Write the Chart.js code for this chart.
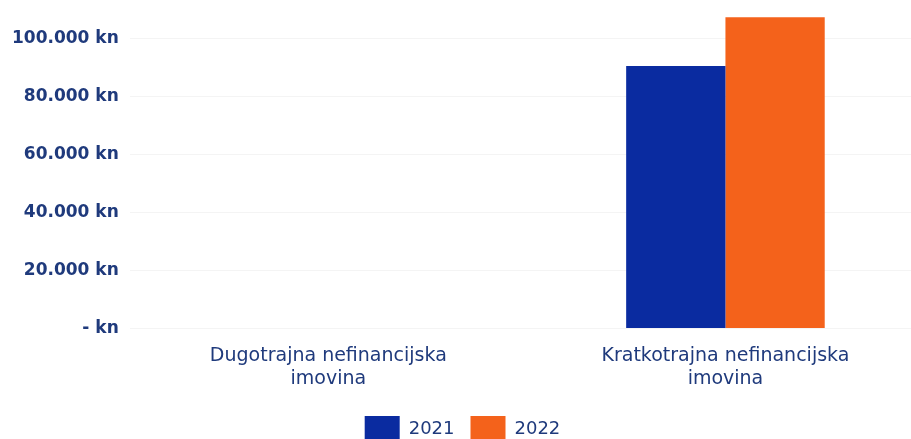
<!DOCTYPE html>
<html lang="hr">
<head>
    <meta charset="UTF-8">
    <title>Nefinancijska imovina</title>
    <style>
        html, body {
            margin: 0;
            padding: 0;
            background: #ffffff;
            overflow: hidden;
        }
        #wrap {
            position: relative;
            top: -12px;
            width: 924px;
            height: 464px;
        }
    </style>
</head>
<body>
<div id="wrap">
    <canvas id="myChart"></canvas>
</div>

<script src="https://cdn.jsdelivr.net/npm/chart.js"></script>
<script>
    const kategorije = [
        ['Dugotrajna nefinancijska', 'imovina'],
        ['Kratkotrajna nefinancijska', 'imovina']
    ];
    const godine = ['2021', '2022'];
    const vrijednosti_2021 = [0, 90400];
    const vrijednosti_2022 = [0, 107200];
    const y_oznake = [0, 20000, 40000, 60000, 80000, 100000];
    const y_max = 110000;

    const tekst_boja = '#1f3a7c';

    function formatKn(v) {
        if (v === 0) return '- kn';
        return String(v).replace(/\B(?=(\d{3})+(?!\d))/g, '.') + ' kn';
    }

    const ctx = document.getElementById('myChart');
    const myChart = new Chart(ctx, {
        type: 'bar',
        data: {
            labels: kategorije,
            datasets: [
                {label: godine[0], data: vrijednosti_2021, backgroundColor: '#0a2ba0'},
                {label: godine[1], data: vrijednosti_2022, backgroundColor: '#f4621b'},
            ],
        },
        options: {
            responsive: true,
            maintainAspectRatio: false,
            animation: false,
            layout: {
                padding: {top: 0, left: 1, right: 0, bottom: 0}
            },
            datasets: {
                bar: {
                    barPercentage: 1.0,
                    categoryPercentage: 0.5,
                }
            },
            scales: {
                x: {
                    grid: {display: false},
                    border: {display: false},
                    afterFit: (axis) => {
                        axis.height += 2;
                    },
                    ticks: {
                        color: tekst_boja,
                        font: {family: 'DejaVu Sans', size: 19, lineHeight: 1.2},
                        maxRotation: 0,
                        padding: 8,
                    }
                },
                y: {
                    min: 0,
                    max: y_max,
                    afterBuildTicks: (axis) => {
                        axis.ticks = y_oznake.map(v => ({value: v}));
                    },
                    grid: {color: '#f4f4f4', drawTicks: false},
                    border: {display: false},
                    ticks: {
                        color: tekst_boja,
                        font: {family: 'DejaVu Sans', size: 17, weight: 'bold'},
                        padding: 11,
                        callback: (v) => formatKn(v),
                    }
                }
            },
            plugins: {
                legend: {
                    position: 'bottom',
                    labels: {
                        color: tekst_boja,
                        font: {family: 'DejaVu Sans', size: 18},
                        boxWidth: 35,
                        boxHeight: 26,
                        padding: 16,
                    }
                },
                tooltip: {enabled: false}
            }
        }
    });
</script>
</body>
</html>
